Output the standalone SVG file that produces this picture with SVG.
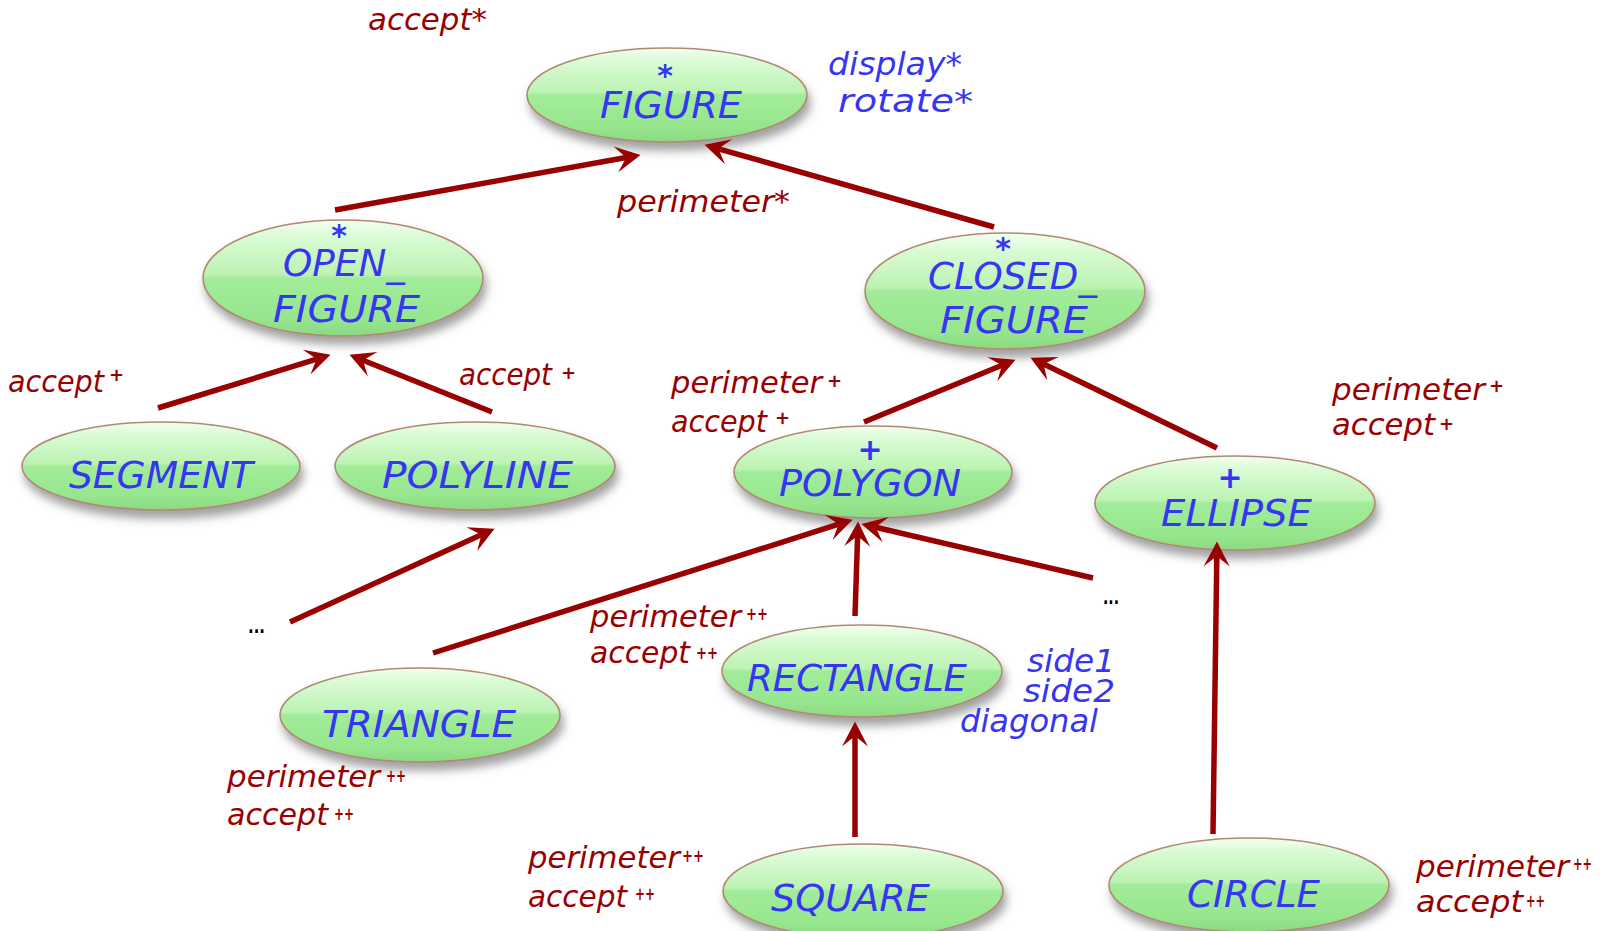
<svg xmlns="http://www.w3.org/2000/svg" width="1604" height="931" viewBox="0 0 1604 931">
  <style>
    .bubble { fill: url(#gloss); stroke: #b08a72; stroke-width: 1.6; filter: url(#shade); }
    .name { font-family: "DejaVu Sans", "Liberation Sans", sans-serif; font-style: italic; font-size: 38px; fill: #3636f2; }
    .mark { font-family: "DejaVu Sans", "Liberation Sans", sans-serif; font-weight: bold; font-size: 30px; fill: #3636f2; text-anchor: middle; }
    .feat { font-family: "DejaVu Sans", "Liberation Sans", sans-serif; font-style: italic; font-size: 30px; fill: #990000; }
    .sup { font-family: "DejaVu Sans", "Liberation Sans", sans-serif; font-weight: bold; font-size: 18px; fill: #990000; }
    .own { font-family: "DejaVu Sans", "Liberation Sans", sans-serif; font-style: italic; font-size: 32px; fill: #3636f2; }
    .dots { font-family: "DejaVu Sans", "Liberation Sans", sans-serif; font-weight: bold; font-size: 20px; fill: #000000; }
    .link { fill: none; stroke: #990000; stroke-width: 5.5; marker-end: url(#head); }
  </style>
  <defs>
    <linearGradient id="gloss" x1="0" y1="0" x2="0" y2="1">
      <stop offset="0" stop-color="#f2fff0"/>
      <stop offset="0.15" stop-color="#d9fbd4"/>
      <stop offset="0.47" stop-color="#bcf3b3"/>
      <stop offset="0.5" stop-color="#a2ec99"/>
      <stop offset="0.85" stop-color="#96e68d"/>
      <stop offset="1" stop-color="#8cd884"/>
    </linearGradient>
    <filter id="shade" x="-20%" y="-20%" width="140%" height="160%">
      <feGaussianBlur in="SourceAlpha" stdDeviation="5"/>
      <feOffset dx="3" dy="8" result="blur"/>
      <feFlood flood-color="#555555" flood-opacity="0.55"/>
      <feComposite in2="blur" operator="in"/>
      <feMerge>
        <feMergeNode/>
        <feMergeNode in="SourceGraphic"/>
      </feMerge>
    </filter>
    <marker id="head" markerUnits="userSpaceOnUse" markerWidth="26" markerHeight="26" viewBox="0 0 24 25" refX="10" refY="12.5" orient="auto" overflow="visible">
      <path d="M0,0 L24,12.5 L0,25 L10,12.5 Z" fill="#990000"/>
    </marker>
  </defs>

  <rect width="1604" height="931" fill="#ffffff"/>

  <!-- class nodes -->
  <g id="node-figure">
    <ellipse class="bubble" cx="667" cy="95" rx="140" ry="47"/>
    <text class="mark" x="665" y="86">*</text>
    <text class="name" x="600" y="118" textLength="142" lengthAdjust="spacingAndGlyphs">FIGURE</text>
  </g>
  <g id="node-open-figure">
    <ellipse class="bubble" cx="343" cy="278" rx="140" ry="58"/>
    <text class="mark" x="339" y="246">*</text>
    <text class="name" x="283" y="276" textLength="122" lengthAdjust="spacingAndGlyphs">OPEN_</text>
    <text class="name" x="273" y="322" textLength="147" lengthAdjust="spacingAndGlyphs">FIGURE</text>
  </g>
  <g id="node-closed-figure">
    <ellipse class="bubble" cx="1005" cy="291" rx="140" ry="58"/>
    <text class="mark" x="1003" y="259">*</text>
    <text class="name" x="928" y="289" textLength="169" lengthAdjust="spacingAndGlyphs">CLOSED_</text>
    <text class="name" x="940" y="333" textLength="148" lengthAdjust="spacingAndGlyphs">FIGURE</text>
  </g>
  <g id="node-segment">
    <ellipse class="bubble" cx="161" cy="466" rx="139" ry="44"/>
    <text class="name" x="69" y="488" textLength="184" lengthAdjust="spacingAndGlyphs">SEGMENT</text>
  </g>
  <g id="node-polyline">
    <ellipse class="bubble" cx="475" cy="466" rx="140" ry="44"/>
    <text class="name" x="382" y="488" textLength="191" lengthAdjust="spacingAndGlyphs">POLYLINE</text>
  </g>
  <g id="node-polygon">
    <ellipse class="bubble" cx="873" cy="472" rx="139" ry="46"/>
    <text class="mark" x="870" y="460">+</text>
    <text class="name" x="779" y="496" textLength="182" lengthAdjust="spacingAndGlyphs">POLYGON</text>
  </g>
  <g id="node-ellipse">
    <ellipse class="bubble" cx="1235" cy="503" rx="140" ry="47"/>
    <text class="mark" x="1230" y="488">+</text>
    <text class="name" x="1161" y="526" textLength="151" lengthAdjust="spacingAndGlyphs">ELLIPSE</text>
  </g>
  <g id="node-triangle">
    <ellipse class="bubble" cx="420" cy="715" rx="140" ry="47"/>
    <text class="name" x="322" y="737" textLength="194" lengthAdjust="spacingAndGlyphs">TRIANGLE</text>
  </g>
  <g id="node-rectangle">
    <ellipse class="bubble" cx="862" cy="671" rx="140" ry="46"/>
    <text class="name" x="747" y="691" textLength="220" lengthAdjust="spacingAndGlyphs">RECTANGLE</text>
  </g>
  <g id="node-square">
    <ellipse class="bubble" cx="863" cy="891" rx="140" ry="47"/>
    <text class="name" x="771" y="911" textLength="159" lengthAdjust="spacingAndGlyphs">SQUARE</text>
  </g>
  <g id="node-circle">
    <ellipse class="bubble" cx="1249" cy="885" rx="140" ry="47"/>
    <text class="name" x="1187" y="907" textLength="133" lengthAdjust="spacingAndGlyphs">CIRCLE</text>
  </g>

  <!-- feature annotations -->
  <g id="features">
    <text class="feat" x="368" y="30" textLength="119" lengthAdjust="spacingAndGlyphs">accept*</text>
    <text class="own" x="828" y="75" textLength="134" lengthAdjust="spacingAndGlyphs">display*</text>
    <text class="own" x="838" y="112" textLength="135" lengthAdjust="spacingAndGlyphs">rotate*</text>
    <text class="feat" x="617" y="212" textLength="173" lengthAdjust="spacingAndGlyphs">perimeter*</text>

    <text class="feat" x="8" y="392" textLength="96" lengthAdjust="spacingAndGlyphs">accept</text>
    <text class="sup" x="109" y="381">+</text>

    <text class="feat" x="459" y="385" textLength="93" lengthAdjust="spacingAndGlyphs">accept</text>
    <text class="sup" x="561" y="379">+</text>

    <text class="feat" x="671" y="393" textLength="151" lengthAdjust="spacingAndGlyphs">perimeter</text>
    <text class="sup" x="827" y="387">+</text>
    <text class="feat" x="671" y="432" textLength="96" lengthAdjust="spacingAndGlyphs">accept</text>
    <text class="sup" x="775" y="424">+</text>

    <text class="feat" x="1332" y="400" textLength="153" lengthAdjust="spacingAndGlyphs">perimeter</text>
    <text class="sup" x="1489" y="392">+</text>
    <text class="feat" x="1332" y="435" textLength="103" lengthAdjust="spacingAndGlyphs">accept</text>
    <text class="sup" x="1439" y="430">+</text>

    <text class="feat" x="590" y="627" textLength="151" lengthAdjust="spacingAndGlyphs">perimeter</text>
    <text class="sup" x="746" y="620" textLength="22" lengthAdjust="spacingAndGlyphs">++</text>
    <text class="feat" x="590" y="663" textLength="100" lengthAdjust="spacingAndGlyphs">accept</text>
    <text class="sup" x="696" y="659" textLength="22" lengthAdjust="spacingAndGlyphs">++</text>

    <text class="feat" x="227" y="787" textLength="153" lengthAdjust="spacingAndGlyphs">perimeter</text>
    <text class="sup" x="386" y="782" textLength="20" lengthAdjust="spacingAndGlyphs">++</text>
    <text class="feat" x="227" y="825" textLength="101" lengthAdjust="spacingAndGlyphs">accept</text>
    <text class="sup" x="334" y="820" textLength="20" lengthAdjust="spacingAndGlyphs">++</text>

    <text class="feat" x="528" y="868" textLength="152" lengthAdjust="spacingAndGlyphs">perimeter</text>
    <text class="sup" x="682" y="862" textLength="22" lengthAdjust="spacingAndGlyphs">++</text>
    <text class="feat" x="528" y="907" textLength="99" lengthAdjust="spacingAndGlyphs">accept</text>
    <text class="sup" x="635" y="900" textLength="20" lengthAdjust="spacingAndGlyphs">++</text>

    <text class="feat" x="1416" y="877" textLength="153" lengthAdjust="spacingAndGlyphs">perimeter</text>
    <text class="sup" x="1573" y="870" textLength="19" lengthAdjust="spacingAndGlyphs">++</text>
    <text class="feat" x="1416" y="912" textLength="107" lengthAdjust="spacingAndGlyphs">accept</text>
    <text class="sup" x="1526" y="907" textLength="19" lengthAdjust="spacingAndGlyphs">++</text>

    <text class="own" x="1027" y="672" textLength="88" lengthAdjust="spacingAndGlyphs">side1</text>
    <text class="own" x="1023" y="702" textLength="92" lengthAdjust="spacingAndGlyphs">side2</text>
    <text class="own" x="960" y="732" textLength="138" lengthAdjust="spacingAndGlyphs">diagonal</text>

    <text class="dots" x="248" y="633" textLength="17" lengthAdjust="spacingAndGlyphs">...</text>
    <text class="dots" x="1103" y="604" textLength="16" lengthAdjust="spacingAndGlyphs">...</text>
  </g>

  <!-- inheritance connectors, child to parent -->
  <g id="connectors">
    <path class="link" d="M335,210 L626.2,157.5"/>
    <path class="link" d="M994,227 L718.5,148.8"/>
    <path class="link" d="M158,408 L316.6,359.1"/>
    <path class="link" d="M492,412 L363,360.2"/>
    <path class="link" d="M864,422 L1002,365.3"/>
    <path class="link" d="M1217,448 L1043.6,364.1"/>
    <path class="link" d="M290,622 L481.3,534.8"/>
    <path class="link" d="M433,653 L838.7,524.2"/>
    <path class="link" d="M855,616 L857.6,536"/>
    <path class="link" d="M1093,578 L875.6,527.2"/>
    <path class="link" d="M855,837 L855,736"/>
    <path class="link" d="M1213,834 L1216.8,556"/>
  </g>
</svg>
